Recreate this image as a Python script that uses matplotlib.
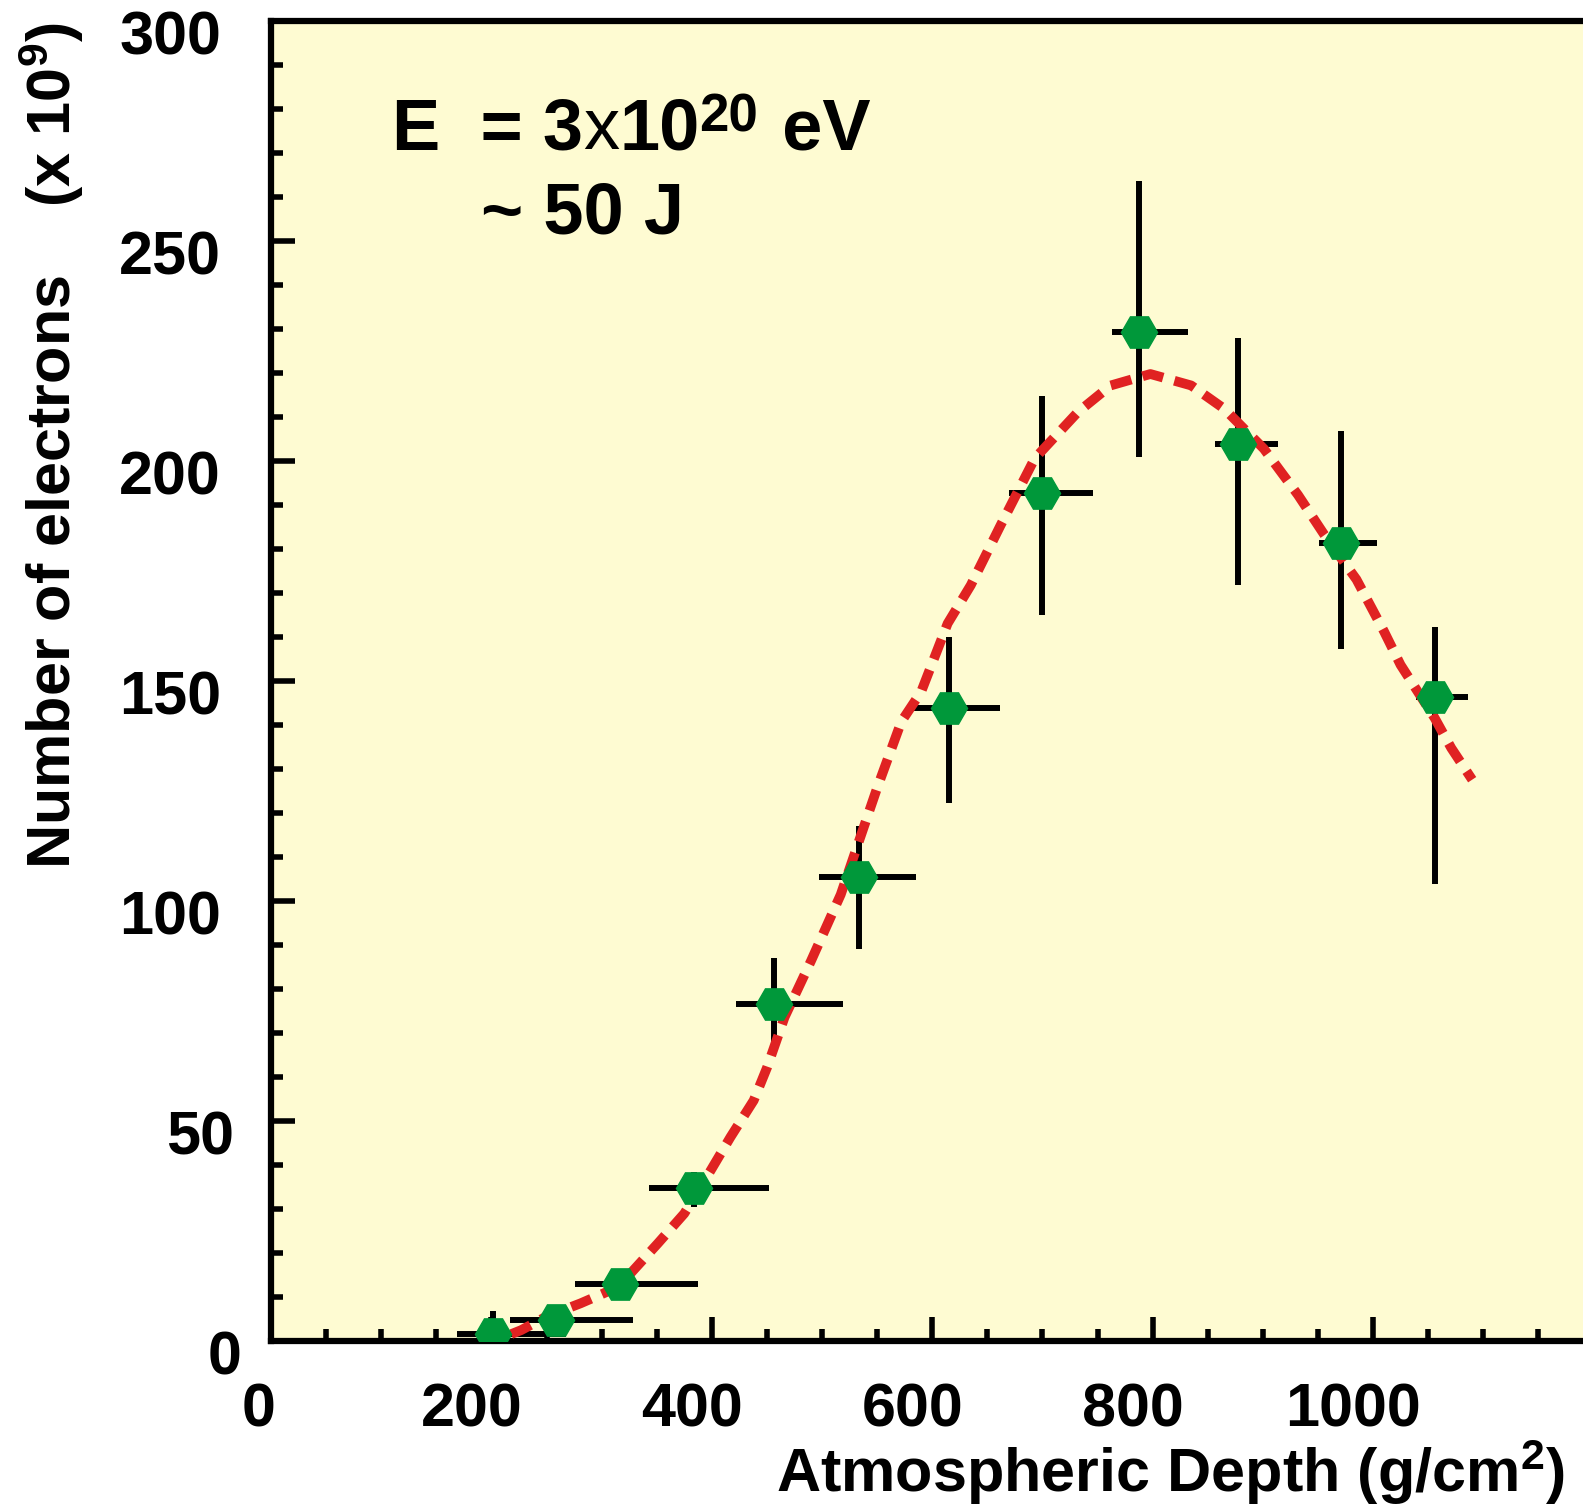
import matplotlib
matplotlib.use("Agg")
import matplotlib.pyplot as plt
import matplotlib.transforms as mtransforms
from matplotlib.ticker import MultipleLocator

plt.rcParams['font.family'] = ['Liberation Sans', 'DejaVu Sans']
plt.rcParams['font.weight'] = 'bold'
plt.rcParams['mathtext.fontset'] = 'custom'
plt.rcParams['mathtext.rm'] = 'Liberation Sans:bold'
plt.rcParams['mathtext.bf'] = 'Liberation Sans:bold'
plt.rcParams['mathtext.it'] = 'Liberation Sans:bold'
plt.rcParams['mathtext.default'] = 'rm'

# measured shower points (depth g/cm2, electrons x1e9)
depth = [201.7, 258.6, 317.0, 384.1, 456.2, 533.8, 615.5, 699.4, 787.4, 877.2, 971.0, 1056.5]
electrons = [1.45, 4.7, 12.8, 34.6, 76.6, 105.4, 143.9, 192.7, 229.3, 203.7, 181.2, 146.2]
xerr_lo = [33, 41.5, 40.8, 40.8, 34.2, 36.3, 36.3, 29.7, 24.2, 20.6, 20.0, 17.5]
xerr_hi = [66, 69.6, 70.2, 67.5, 63.2, 51.4, 46.3, 46.5, 44.5, 36.3, 32.4, 29.4]
yerr_lo = [1.45, 1.5, 2.5, 4.3, 10.1, 16.3, 21.8, 27.7, 28.5, 31.9, 23.9, 42.3]
yerr_hi = [5.3, 1.5, 2.5, 3.8, 10.3, 11.6, 16.1, 21.9, 34.3, 24.1, 25.6, 16.1]

# fitted profile
fit_x = [218, 227, 250, 281, 315, 351, 375, 399, 417, 438, 450, 466, 490, 517, 550, 572,
         590, 614, 635, 662, 693, 732, 762, 798, 835, 865, 901, 932, 956, 985, 1010,
         1025, 1056, 1071, 1090]
fit_y = [1.5, 2.4, 5.5, 8.5, 12.2, 22.1, 28.9, 38.7, 46.3, 54.6, 62.0, 73.5, 86.3, 101.4,
         125.6, 140.7, 147.5, 163.0, 171.7, 185.3, 200.5, 211.0, 217.1, 219.7, 217.1, 211.8,
         202.7, 192.2, 183.1, 173.0, 161.2, 153.6, 141.5, 134.7, 127.5]

W, H = 1583, 1506
fig = plt.figure(figsize=(W / 100, H / 100), dpi=100)
ax = fig.add_axes([271 / W, (H - 1340.7) / H, (W - 271) / W, 1320 / H])
ax.set_facecolor('#FEFBD2')

ax.errorbar(depth, electrons, xerr=[xerr_lo, xerr_hi], yerr=[yerr_lo, yerr_hi],
            fmt='none', ecolor='black', elinewidth=4.3, capsize=0, zorder=2)
ax.plot(fit_x, fit_y, color='#E02222', lw=7, dashes=(2.2, 1.2),
        solid_capstyle='butt', dash_capstyle='butt', zorder=3)
ax.plot(depth, electrons, linestyle='none', marker='H', ms=26,
        color='#00983A', mec='#00983A', zorder=4)

ax.set_xlim(0, (W - 271) / 1.102)
ax.set_ylim(0, 300)
ax.set_xticks([0, 200, 400, 600, 800, 1000])
ax.set_yticks([0, 50, 100, 150, 200, 250, 300])
ax.xaxis.set_minor_locator(MultipleLocator(50))
ax.yaxis.set_minor_locator(MultipleLocator(10))

for side in ['left', 'bottom', 'top']:
    ax.spines[side].set_linewidth(4.5)
ax.spines['right'].set_visible(False)

ax.tick_params(which='both', direction='in', width=4, labelsize=44)
ax.tick_params(which='major', length=17)
ax.tick_params(which='minor', length=8.5)
ax.tick_params(axis='x', pad=30)
ax.tick_params(axis='y', pad=36)

# tick labels in the source sit a bit off their ticks
xshift = [-0.12, -0.2, -0.2, -0.2, -0.2, -0.2]
for lab, dx in zip(ax.get_xticklabels(), xshift):
    lab.set_transform(lab.get_transform() + mtransforms.ScaledTranslation(dx, 0, fig.dpi_scale_trans))
yshift = [0.2, 0.13, 0, 0, 0, 0, 0]
for lab, dx in zip(ax.get_yticklabels(), yshift):
    lab.set_transform(lab.get_transform() + mtransforms.ScaledTranslation(dx, -0.12, fig.dpi_scale_trans))

# energy annotation, built piece by piece (thin "x", raised exponent)
fig.canvas.draw()
renderer = fig.canvas.get_renderer()
pieces = [('E  = 3', 'bold', 52, 0, 0),
          ('x', 'normal', 52, 0, 0),
          ('10', 'bold', 52, 0, 0),
          ('20', 'bold', 38, 17, 0),
          (' eV', 'bold', 52, 0, 4)]
xpos = 392
base = H - 149
for s, wt, size, rise, gap in pieces:
    xpos += gap
    t = fig.text(xpos / W, (base + rise) / H, s, fontsize=size, fontweight=wt,
                 ha='left', va='baseline')
    xpos = t.get_window_extent(renderer).x1
fig.text(481 / W, (H - 233) / H, '~ 50 J', fontsize=52, ha='left', va='baseline')

fig.text(1565 / W, 14 / H, r'Atmospheric Depth (g/cm$^{2}$)', fontsize=44,
         ha='right', va='baseline')
fig.text(51 / W, 1 - 446 / H, r'Number of electrons    (x 10$^{9}$)', fontsize=44,
         rotation=90, ha='center', va='center')

fig.savefig('out.png', dpi=100, facecolor='white')
